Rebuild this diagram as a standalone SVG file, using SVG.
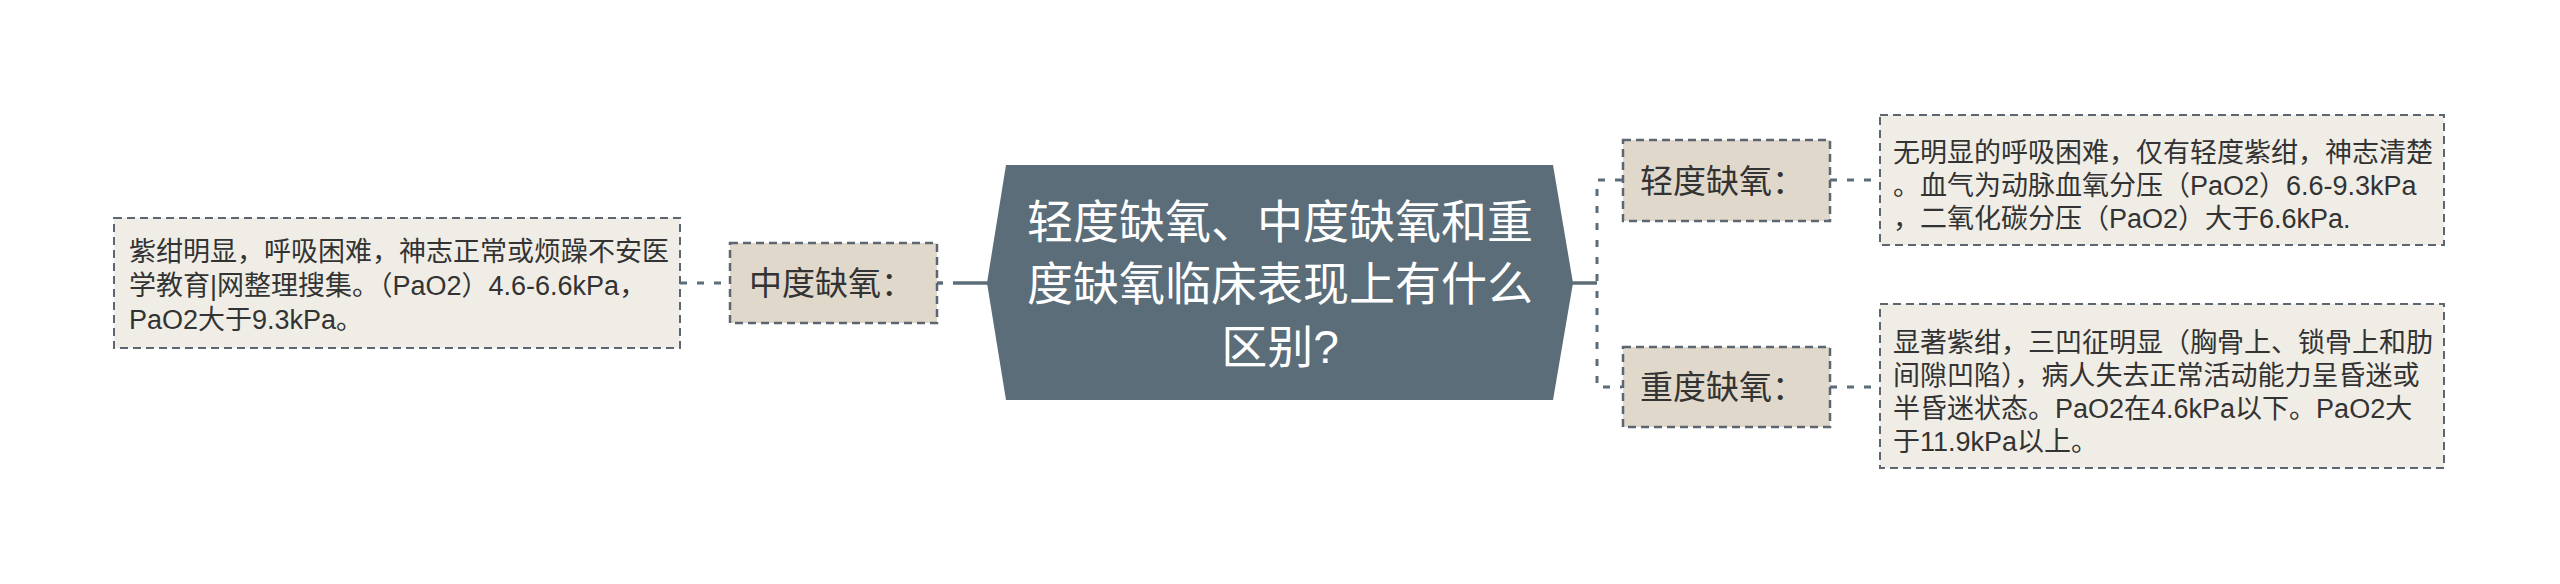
<svg xmlns="http://www.w3.org/2000/svg" width="2560" height="584" viewBox="0 0 2560 584">
<style>
.bg{fill:#ffffff}
.root{fill:#5b6d79}
.roottxt{font-family:"Liberation Sans","Noto Sans CJK SC",sans-serif;font-size:46px;fill:#ffffff;text-anchor:middle}
.l1{fill:#e0d8cb;stroke:#5b6670;stroke-width:2.5;stroke-dasharray:8 5}
.l1txt{font-family:"Liberation Sans","Noto Sans CJK SC",sans-serif;font-size:33px;fill:#333333}
.det{fill:#f0ede6;stroke:#5b6670;stroke-width:2;stroke-dasharray:8 5}
.dettxt{font-family:"Liberation Sans","Noto Sans CJK SC",sans-serif;font-size:27px;fill:#333333}
.solid{stroke:#5b6d79;stroke-width:3.5;fill:none}
.dash{stroke:#5b6d79;stroke-width:3;fill:none;stroke-dasharray:7 10}
</style>
<rect class="bg" x="0" y="0" width="2560" height="584"/>
<g id="connectors">
<line class="solid" x1="953" y1="283" x2="990" y2="283"/>
<line class="solid" x1="937" y1="283" x2="943" y2="283"/>
<line class="dash" x1="680" y1="283" x2="730" y2="283"/>
<line class="solid" x1="1570" y1="283" x2="1597" y2="283"/>
<path class="dash" d="M1622,180 H1597 V387 H1622"/>
<line class="dash" x1="1830" y1="180" x2="1880" y2="180"/>
<line class="dash" x1="1830" y1="387" x2="1880" y2="387"/>
</g>
<g id="root">
<polygon class="root" points="1006,165 1553,165 1573,283 1553,400 1006,400 987,283"/>
<text class="roottxt" x="1280" y="238">轻度缺氧、中度缺氧和重</text>
<text class="roottxt" x="1280" y="300">度缺氧临床表现上有什么</text>
<text class="roottxt" x="1280" y="363">区别?</text>
</g>
<g id="node-mild">
<rect class="l1" x="1623" y="140" width="207" height="81"/>
<text class="l1txt" x="1640" y="193">轻度缺氧：</text>
</g>
<g id="detail-mild">
<rect class="det" x="1880" y="115" width="564" height="130"/>
<text class="dettxt" x="1893" y="162">无明显的呼吸困难，仅有轻度紫绀，神志清楚</text>
<text class="dettxt" x="1893" y="195">。血气为动脉血氧分压（PaO2）6.6-9.3kPa</text>
<text class="dettxt" x="1893" y="228">，二氧化碳分压（PaO2）大于6.6kPa.</text>
</g>
<g id="node-severe">
<rect class="l1" x="1623" y="347" width="207" height="80"/>
<text class="l1txt" x="1640" y="399">重度缺氧：</text>
</g>
<g id="detail-severe">
<rect class="det" x="1880" y="304" width="564" height="164"/>
<text class="dettxt" x="1893" y="352">显著紫绀，三凹征明显（胸骨上、锁骨上和肋</text>
<text class="dettxt" x="1893" y="385">间隙凹陷），病人失去正常活动能力呈昏迷或</text>
<text class="dettxt" x="1893" y="418">半昏迷状态。PaO2在4.6kPa以下。PaO2大</text>
<text class="dettxt" x="1893" y="451">于11.9kPa以上。</text>
</g>
<g id="node-moderate">
<rect class="l1" x="730" y="243" width="207" height="80"/>
<text class="l1txt" x="749" y="295">中度缺氧：</text>
</g>
<g id="detail-moderate">
<rect class="det" x="114" y="218" width="566" height="130"/>
<text class="dettxt" x="129" y="261">紫绀明显，呼吸困难，神志正常或烦躁不安医</text>
<text class="dettxt" x="129" y="295">学教育|网整理搜集。（PaO2）4.6-6.6kPa，</text>
<text class="dettxt" x="129" y="329">PaO2大于9.3kPa。</text>
</g>
</svg>
